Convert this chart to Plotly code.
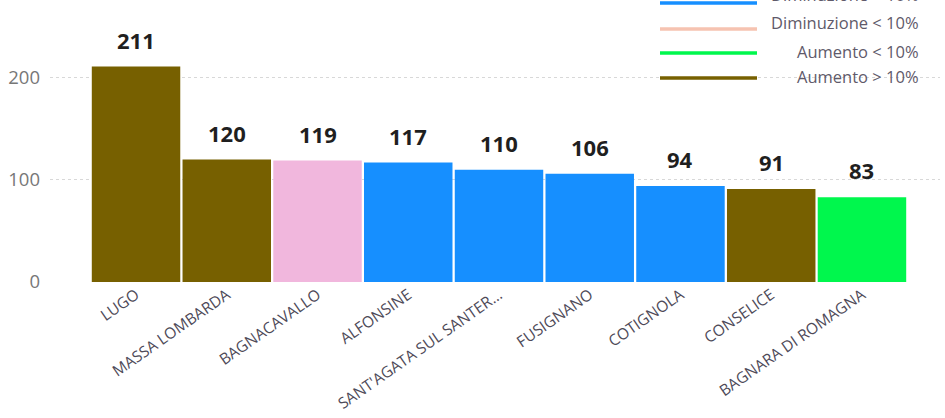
import plotly.graph_objects as go

comuni = ["LUGO", "MASSA LOMBARDA", "BAGNACAVALLO", "ALFONSINE", "SANT'AGATA SUL SANTER...",
          "FUSIGNANO", "COTIGNOLA", "CONSELICE", "BAGNARA DI ROMAGNA"]
valori = [211, 120, 119, 117, 110, 106, 94, 91, 83]
classi = ["Aumento > 10%", "Aumento > 10%", "Diminuzione < 10%", "Diminuzione > 10%",
          "Diminuzione > 10%", "Diminuzione > 10%", "Diminuzione > 10%", "Aumento > 10%",
          "Aumento < 10%"]
colori_barre = {
    "Diminuzione > 10%": "#168FFF",
    "Diminuzione < 10%": "#F1B7DD",
    "Aumento < 10%": "#00F74D",
    "Aumento > 10%": "#776000",
}
legenda_voci = ["Diminuzione > 10%", "Diminuzione < 10%", "Aumento < 10%", "Aumento > 10%"]
legenda_colori = ["#168FFF", "#F6C3B1", "#00F74D", "#776000"]
y_ticks = [0, 100, 200]

W, H = 945, 418
plot_l, plot_r, plot_t, plot_b = 50, 940, 37, 282   # plot area in page pixels
ml, mr, mt, mb = plot_l, W - plot_r, plot_t, H - plot_b
pw, ph = plot_r - plot_l, plot_b - plot_t

fig = go.Figure()
fig.add_trace(go.Bar(
    x=list(range(len(comuni))), y=valori,
    marker=dict(color=[colori_barre[c] for c in classi], line=dict(width=0)),
    showlegend=False, hoverinfo="skip",
))

for i, v in enumerate(valori):
    fig.add_annotation(x=i, y=v, text=f"<b>{v}</b>", showarrow=False,
                       yanchor="bottom", yshift=10,
                       font=dict(family="Open Sans", size=22, color="#1F1F1F"))

def px_x(p):
    return (p - plot_l) / pw

def px_y(p):
    return (plot_b - p) / ph

line_y = [3, 29, 53, 78]
text_y = [-5, 23, 52, 76]
for lab, col, ly, ty in zip(legenda_voci, legenda_colori, line_y, text_y):
    fig.add_shape(type="line", xref="paper", yref="paper",
                  x0=px_x(660), x1=px_x(757), y0=px_y(ly), y1=px_y(ly),
                  line=dict(color=col, width=3.5))
    fig.add_annotation(xref="paper", yref="paper", x=px_x(921), y=px_y(ty),
                       text=lab, showarrow=False, xanchor="right", yanchor="middle",
                       font=dict(family="Open Sans", size=16.5, color="#5F5A6A"))

fig.update_layout(
    width=W, height=H,
    margin=dict(l=ml, r=mr, t=mt, b=mb, autoexpand=False),
    plot_bgcolor="white", paper_bgcolor="white",
    bargap=0.025,
    xaxis=dict(range=[-0.948, 8.86], tickmode="array",
               tickvals=list(range(len(comuni))), ticktext=comuni,
               tickangle=-35, showgrid=False, zeroline=False, showline=False,
               automargin=False, ticklabelstandoff=0,
               tickfont=dict(family="Open Sans", size=15.5, color="#4E4A58")),
    yaxis=dict(range=[0, 240], tickvals=y_ticks, showgrid=True,
               gridcolor="#D8D8D8", griddash="dot", gridwidth=1,
               zeroline=False, showline=False, ticklabelstandoff=9,
               automargin=False,
               tickfont=dict(family="Open Sans", size=18.5, color="#777777")),
    font=dict(family="Open Sans"),
)

fig.write_html("out.html",
               config={"displayModeBar": False},
               post_script="document.body.style.margin='0px';"
                           "document.body.style.overflow='hidden';")
